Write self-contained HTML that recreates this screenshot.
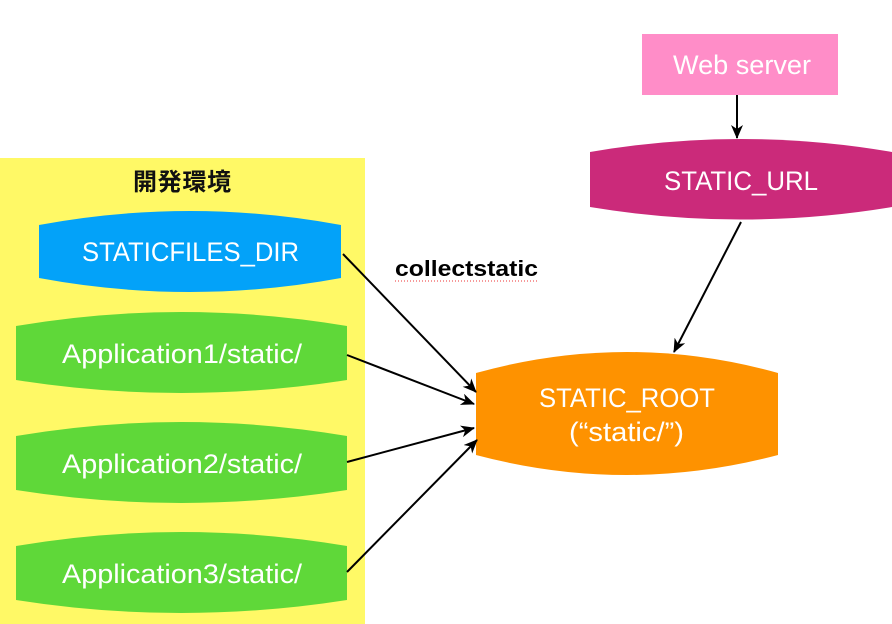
<!DOCTYPE html>
<html><head><meta charset="utf-8"><style>
body{margin:0;background:#fff;}
svg{display:block;}
text{font-family:"Liberation Sans","Noto Sans CJK JP",sans-serif;}
</style></head><body>
<svg width="892" height="624" viewBox="0 0 892 624">
<defs><marker id="a" markerWidth="14" markerHeight="12" refX="13" refY="6" orient="auto" markerUnits="userSpaceOnUse"><path d="M0,0 L14,6 L0,12 L4,6 Z" fill="#000"/></marker></defs>
<rect x="0" y="158" width="365" height="466" fill="#FFF966"/>
<text x="133" y="190" font-size="24" font-weight="bold" textLength="98" fill="#111">開発環境</text>
<path d="M39,225 Q190,197 341,225 L341,278 Q190,306 39,278 Z" fill="#03A2F9"/>
<text x="82" y="261" font-size="27" textLength="217" lengthAdjust="spacingAndGlyphs" fill="#fff">STATICFILES_DIR</text>
<path d="M16,326 Q181,298 347,326 L347,380 Q181,406 16,380 Z" fill="#5FD839"/>
<text x="62" y="363" font-size="27" textLength="240" lengthAdjust="spacingAndGlyphs" fill="#fff">Application1/static/</text>
<path d="M16,436 Q181,408 347,436 L347,490 Q181,516 16,490 Z" fill="#5FD839"/>
<text x="62" y="473" font-size="27" textLength="240" lengthAdjust="spacingAndGlyphs" fill="#fff">Application2/static/</text>
<path d="M16,546 Q181,518 347,546 L347,600 Q181,626 16,600 Z" fill="#5FD839"/>
<text x="62" y="583" font-size="27" textLength="240" lengthAdjust="spacingAndGlyphs" fill="#fff">Application3/static/</text>
<rect x="642" y="34" width="196" height="61" fill="#FF8DC8"/>
<text x="673" y="74" font-size="27" textLength="138" lengthAdjust="spacingAndGlyphs" fill="#fff">Web server</text>
<path d="M590,152 Q741,126 892,152 L892,207 Q741,232 590,207 Z" fill="#CB2A7A"/>
<text x="664" y="190" font-size="27" textLength="154" lengthAdjust="spacingAndGlyphs" fill="#fff">STATIC_URL</text>
<path d="M476,373 Q627,331 778,373 L778,455 Q627,495 476,455 Z" fill="#FE9200"/>
<text x="539" y="407" font-size="27" textLength="176" lengthAdjust="spacingAndGlyphs" fill="#fff">STATIC_ROOT</text>
<text x="569" y="441" font-size="27" textLength="115" lengthAdjust="spacingAndGlyphs" fill="#fff">(“static/”)</text>
<text x="395" y="276" font-size="22" font-weight="bold" textLength="143" lengthAdjust="spacingAndGlyphs" fill="#000">collectstatic</text>
<line x1="395" y1="281" x2="538" y2="281" stroke="#e33" stroke-width="1" stroke-dasharray="1,2"/>
<g stroke="#000" stroke-width="2" fill="none" marker-end="url(#a)">
<line x1="737" y1="95" x2="737" y2="138"/>
<line x1="741" y1="222" x2="674" y2="352"/>
<line x1="343" y1="254" x2="476" y2="392"/>
<line x1="347" y1="355" x2="474" y2="404"/>
<line x1="347" y1="462" x2="474" y2="428"/>
<line x1="347" y1="572" x2="477" y2="440"/>
</g>
</svg>
</body></html>
